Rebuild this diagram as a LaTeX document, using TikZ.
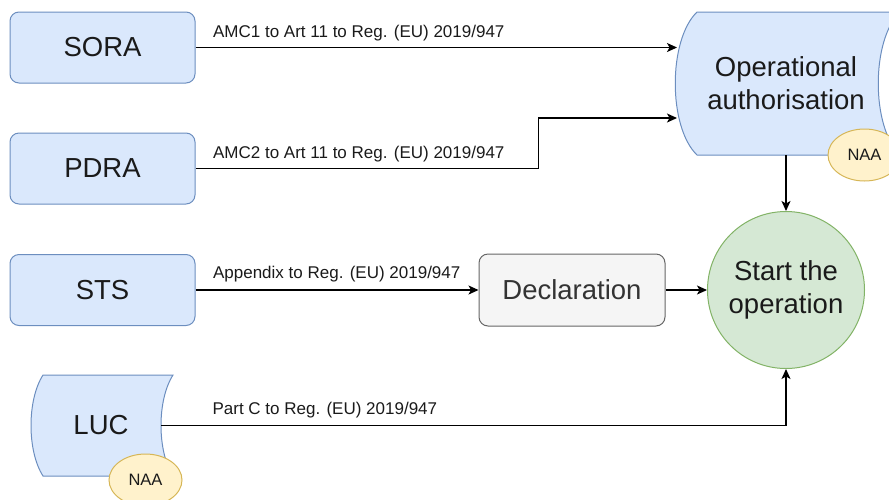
\documentclass[tikz,border=0pt]{standalone}
\usepackage{fontspec}
\setmainfont{Liberation Sans}
\usetikzlibrary{arrows.meta,shapes.geometric}
\definecolor{bluefill}{HTML}{DAE8FC}
\definecolor{bluedraw}{HTML}{6C8EBF}
\definecolor{grayfill}{HTML}{F5F5F5}
\definecolor{graydraw}{HTML}{666666}
\definecolor{graytext}{HTML}{333333}
\definecolor{greenfill}{HTML}{D5E8D4}
\definecolor{greendraw}{HTML}{82B366}
\definecolor{yellowfill}{HTML}{FFF2CC}
\definecolor{yellowdraw}{HTML}{D6B656}
\definecolor{textc}{HTML}{1A1A1A}
\tikzset{
  bigfont/.style={font=\fontsize{27.5}{33}\selectfont},
  bluebox/.style={draw=bluedraw, fill=bluefill, rounded corners=9pt, minimum width=185pt, minimum height=71pt, line width=1pt, bigfont, text=textc},
  graybox/.style={draw=graydraw, fill=grayfill, rounded corners=9pt, minimum width=186pt, minimum height=72pt, line width=1pt, bigfont, text=graytext},
  startnode/.style={circle, draw=greendraw, fill=greenfill, minimum size=157pt, inner sep=0pt, line width=1pt, bigfont, text=textc, align=center},
  storeshape/.style={draw=bluedraw, fill=bluefill, line width=1pt},
  naa/.style={ellipse, draw=yellowdraw, fill=yellowfill, line width=1pt, minimum width=73pt, minimum height=52pt, inner sep=0pt, font=\fontsize{16.5}{20}\selectfont, text=textc},
  conn/.style={draw=black, line width=1.2pt, -{Stealth[length=10pt,width=9pt,inset=2.5pt]}},
  lbl/.style={font=\fontsize{17}{20}\selectfont, text=textc, anchor=west, inner sep=0pt},
}
\begin{document}
\begin{tikzpicture}[x=1pt,y=-1pt]
\useasboundingbox (0,0) rectangle (889,499);
\clip (0,0) rectangle (889,499);

% left boxes
\node[bluebox] (sora) at (102.5,47.5) {SORA};
\node[bluebox] (pdra) at (102.5,168.5) {PDRA};
\node[bluebox] (sts) at (102.5,290) {STS};

% operational authorisation (stored data shape)
\path[storeshape] (697,12) -- (900,12) .. controls (871,40) and (871,127) .. (900,155)
  -- (697,155) .. controls (668,127) and (668,40) .. (697,12) -- cycle;
\node[bigfont, text=textc, align=center, minimum width=170pt, minimum height=143pt, inner sep=0pt] (oa) at (786,83.5) {Operational\\authorisation};
\coordinate (oain1) at (677,47.5);
\coordinate (oain2) at (677,118);
\node[naa] (naa1) at (864.5,155) {NAA};

% LUC
\path[storeshape] (43,375) -- (173,375) .. controls (157,400) and (157,451) .. (173,476)
  -- (43,476) .. controls (27,451) and (27,400) .. (43,375) -- cycle;
\node[bigfont, text=textc] (luc) at (101,425.5) {LUC};
\coordinate (lucout) at (161,425.5);
\node[naa] (naa2) at (145.5,480) {NAA};

% declaration and start
\node[graybox] (decl) at (572,290) {Declaration};
\node[startnode] (start) at (786,290) {Start the\\operation};

% connectors
\draw[conn] (sora.east) -- node[lbl, pos=0, xshift=17pt, yshift=14.5pt] {AMC1 to Art 11 to Reg. (EU) 2019/947} (oain1);
\draw[conn] (pdra.east) -- node[lbl, pos=0, xshift=17pt, yshift=14pt] {AMC2 to Art 11 to Reg. (EU) 2019/947} ++(343,0) |- (oain2);
\draw[conn] (sts.east) -- node[lbl, pos=0, xshift=17pt, yshift=16pt] {Appendix to Reg. (EU) 2019/947} (decl.west);
\draw[conn] (decl.east) -- (start.west);
\draw[conn] (oa.south) -- (start.north);
\draw[conn] (lucout) -- node[lbl, pos=0, xshift=51pt, yshift=15pt] {Part C to Reg. (EU) 2019/947} (lucout -| start.south) -- (start.south);
\end{tikzpicture}
\end{document}
